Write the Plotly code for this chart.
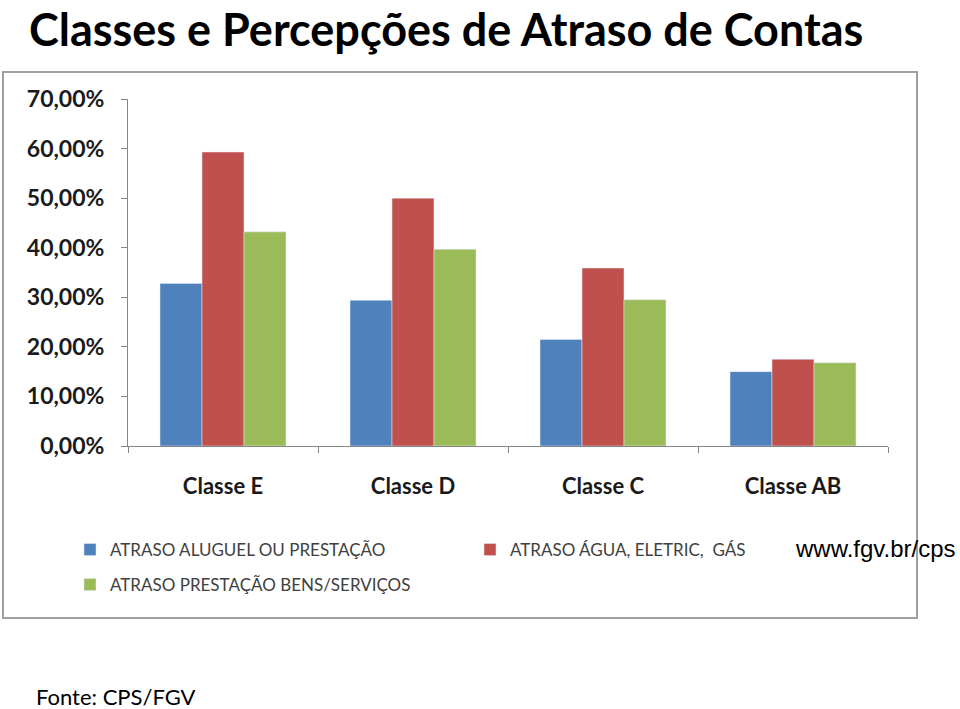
import plotly.graph_objects as go

categories = ["Classe E", "Classe D", "Classe C", "Classe AB"]
aluguel = [32.8, 29.4, 21.5, 15.0]
agua = [59.3, 50.0, 35.9, 17.5]
bens = [43.2, 39.7, 29.5, 16.8]
series_names = ["ATRASO ALUGUEL OU PRESTAÇÃO", "ATRASO ÁGUA, ELETRIC,  GÁS", "ATRASO PRESTAÇÃO BENS/SERVIÇOS"]
y_ticks = [0, 10, 20, 30, 40, 50, 60, 70]
y_tick_labels = ["0,00%", "10,00%", "20,00%", "30,00%", "40,00%", "50,00%", "60,00%", "70,00%"]

SW, SH = 960, 709   # screen size
L, R, T, B = 128, 888, 99, 446  # plot area in screen pixels

def px(x):
    return (x - L) / (R - L)

def py(y):
    return (B - y) / (B - T)

fig = go.Figure()
fig.add_trace(go.Bar(x=categories, y=aluguel, name=series_names[0], marker_color="#4F81BD", legend="legend"))
fig.add_trace(go.Bar(x=categories, y=agua, name=series_names[1], marker_color="#C0504D", legend="legend"))
fig.add_trace(go.Bar(x=categories, y=bens, name=series_names[2], marker_color="#9BBB59", legend="legend2"))

legend_font = dict(family="Lato", size=17, color="#404040")

fig.update_layout(
    width=SW, height=SH,
    margin=dict(l=L, r=SW - R, t=T, b=SH - B, pad=0),
    paper_bgcolor="white", plot_bgcolor="white",
    barmode="group", bargap=0.337, bargroupgap=0,
    showlegend=True,
    legend=dict(orientation="h", x=px(70), y=py(550), xanchor="left", yanchor="middle",
                font=legend_font, entrywidth=355, bgcolor="rgba(0,0,0,0)"),
    legend2=dict(orientation="h", x=px(70), y=py(585), xanchor="left", yanchor="middle",
                 font=legend_font, bgcolor="rgba(0,0,0,0)"),
    xaxis=dict(showline=True, linecolor="#868686", linewidth=1, ticks="outside", ticklen=6,
               tickcolor="#868686", tickson="boundaries", showgrid=False,
               tickfont=dict(family="Lato", size=22, color="#1a1a1a", weight="bold"),
               ticklabelstandoff=21),
    yaxis=dict(range=[0, 70], tickvals=y_ticks, ticktext=y_tick_labels, showline=True,
               linecolor="#868686", linewidth=1, ticks="outside", ticklen=6, tickcolor="#868686",
               showgrid=False, zeroline=False,
               tickfont=dict(family="Lato", size=23, color="#1a1a1a", weight="bold"),
               ticklabelstandoff=12),
)

# outer chart box
fig.add_shape(type="rect", xref="paper", yref="paper", x0=px(3), x1=px(917), y0=py(618), y1=py(72),
              line=dict(color="#A0A0A0", width=2), fillcolor="rgba(0,0,0,0)", layer="below")

fig.add_annotation(text="<b>Classes e Percepções de Atraso de Contas</b>", xref="paper", yref="paper",
                   x=px(27), y=py(0), xanchor="left", yanchor="top", showarrow=False,
                   font=dict(family="Lato", size=45, color="black"))
fig.add_annotation(text="www.fgv.br/cps", xref="paper", yref="paper", x=px(958), y=py(548),
                   xanchor="right", yanchor="middle", showarrow=False,
                   font=dict(family="Liberation Sans", size=24, color="black"))
fig.add_annotation(text="Fonte: CPS/FGV", xref="paper", yref="paper", x=px(34), y=py(696),
                   xanchor="left", yanchor="middle", showarrow=False,
                   font=dict(family="Lato", size=22, color="black"))

fig.write_html("out.html", config={"displayModeBar": False},
               post_script="document.body.style.margin='0';document.body.style.overflow='hidden';")
